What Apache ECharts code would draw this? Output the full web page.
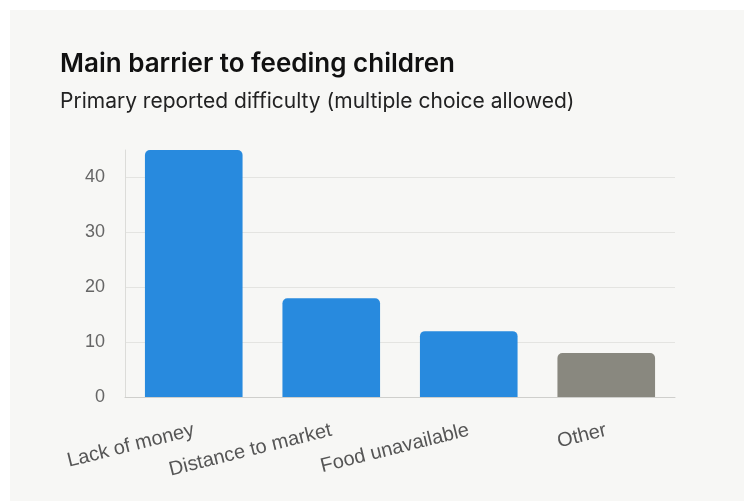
<!DOCTYPE html>
<html>
<head>
<meta charset="utf-8">
<script src="https://cdn.jsdelivr.net/npm/echarts@6/dist/echarts.min.js"></script>
<style>
  html, body { margin: 0; padding: 0; background: #ffffff; }
  #chart { width: 750px; height: 501px; }
</style>
</head>
<body>
<div id="chart"></div>
<script>
// Reported barriers and share of respondents
const categories = ['Lack of money', 'Distance to market', 'Food unavailable', 'Other'];
const values = [45, 18, 12, 8];
const barColors = ['#288ade', '#288ade', '#288ade', '#89887f'];
const titleText = 'Main barrier to feeding children';
const subtitleText = 'Primary reported difficulty (multiple choice allowed)';

const chart = echarts.init(document.getElementById('chart'), null, { renderer: 'canvas' });

chart.setOption({
  backgroundColor: '#ffffff',
  animation: false,
  graphic: [
    {
      type: 'rect',
      z: -10,
      silent: true,
      shape: { x: 10, y: 10, width: 734, height: 491 },
      style: { fill: '#f7f7f5' }
    }
  ],
  title: {
    text: titleText,
    subtext: subtitleText,
    left: 55,
    top: 46,
    itemGap: 14,
    textStyle: {
      fontFamily: 'Inter',
      fontWeight: 600,
      fontSize: 26,
      color: '#111111'
    },
    subtextStyle: {
      fontFamily: 'Inter',
      fontWeight: 400,
      fontSize: 21,
      color: '#222222'
    }
  },
  grid: {
    left: 125,
    right: 75,
    top: 150,
    bottom: 104,
    containLabel: false
  },
  xAxis: {
    type: 'category',
    data: categories,
    axisTick: { show: false },
    axisLine: { lineStyle: { color: '#cfcfcc', width: 1 } },
    axisLabel: {
      rotate: 14,
      margin: 33,
      fontFamily: 'Liberation Sans',
      fontSize: 20,
      color: '#555555'
    }
  },
  yAxis: {
    type: 'value',
    min: 0,
    max: 45,
    interval: 10,
    axisLine: { show: true, lineStyle: { color: '#dcdcd9', width: 1 } },
    axisTick: { show: false },
    axisLabel: {
      margin: 20,
      fontFamily: 'Liberation Sans',
      fontSize: 18,
      color: '#666666',
      showMaxLabel: false
    },
    splitLine: {
      show: true,
      showMaxLine: false,
      lineStyle: { color: '#e4e4e1', width: 1 }
    }
  },
  series: [
    {
      type: 'bar',
      data: values.map((v, i) => ({ value: v, itemStyle: { color: barColors[i] } })),
      barWidth: '71%',
      itemStyle: { borderRadius: [5, 5, 0, 0] }
    }
  ]
});
</script>
</body>
</html>
